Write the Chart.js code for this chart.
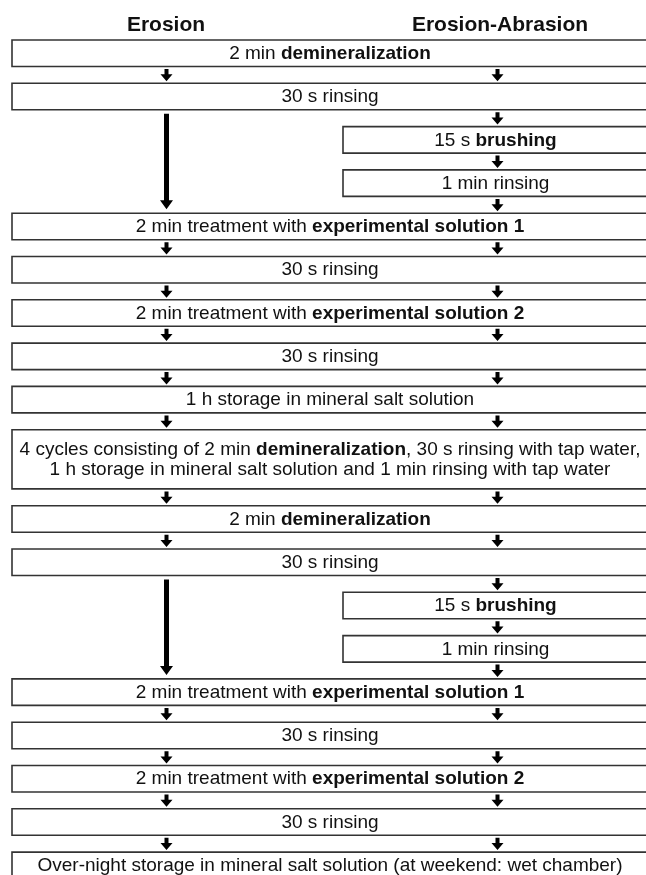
<!DOCTYPE html>
<html>
<head>
<meta charset="utf-8">
<script src="https://cdn.jsdelivr.net/npm/chart.js@4.4.1/dist/chart.umd.min.js"></script>
<style>
  html, body { margin: 0; padding: 0; background: #fff; }
  #wrap { width: 646px; height: 875px; }
</style>
</head>
<body>
<div id="wrap"><canvas id="flow"></canvas></div>
<script>
// column headings
const headers = ["Erosion", "Erosion-Abrasion"];

// the steps, top to bottom (**...** = bold, \n = second line)
const steps = [
  "2 min **demineralization**",
  "30 s rinsing",
  "15 s **brushing**",
  "1 min rinsing",
  "2 min treatment with **experimental solution 1**",
  "30 s rinsing",
  "2 min treatment with **experimental solution 2**",
  "30 s rinsing",
  "1 h storage in mineral salt solution",
  "4 cycles consisting of 2 min **demineralization**, 30 s rinsing with tap water,\n1 h storage in mineral salt solution and 1 min rinsing with tap water",
  "2 min **demineralization**",
  "30 s rinsing",
  "15 s **brushing**",
  "1 min rinsing",
  "2 min treatment with **experimental solution 1**",
  "30 s rinsing",
  "2 min treatment with **experimental solution 2**",
  "30 s rinsing",
  "Over-night storage in mineral salt solution (at weekend: wet chamber)"
];

// which groups a step applies to
const lanes = [
  "both", "both", "abrasion", "abrasion", "both", "both", "both", "both", "both",
  "both", "both", "both", "abrasion", "abrasion", "both", "both", "both", "both", "both"
];

// layout
const TOP = 40, BOX_H = 26.5, LINE_H = 32.7, GAP = 16.8;
const LEFT = [12, 343], RIGHT = 648;
const LANE_X = [166.5, 497.5];
const HEAD_X = [166, 500];
const FONT = '"Liberation Sans", Arial, sans-serif';

// box extents follow from the order of the steps
const boxes = [];
let yPos = TOP;
steps.forEach((s, i) => {
  const lines = s.split("\n").length;
  const h = BOX_H + (lines - 1) * LINE_H;
  boxes.push({ top: yPos, bottom: yPos + h, left: lanes[i] === "both" ? LEFT[0] : LEFT[1] });
  yPos += h + GAP;
});

const datasets = [];

boxes.forEach(b => {
  datasets.push({
    data: [
      { x: b.left, y: b.top }, { x: RIGHT, y: b.top },
      { x: RIGHT, y: b.bottom }, { x: b.left, y: b.bottom }, { x: b.left, y: b.top }
    ],
    borderColor: "#333",
    borderWidth: 1.6,
    borderJoinStyle: "miter",
    borderCapStyle: "square",
    fill: false
  });
});

function arrow(cx, y0, y1, sw, hw, hh) {
  const yh = y1 - hh;
  return {
    data: [
      { x: cx - sw / 2, y: y0 }, { x: cx + sw / 2, y: y0 },
      { x: cx + sw / 2, y: yh }, { x: cx + hw / 2, y: yh },
      { x: cx, y: y1 },
      { x: cx - hw / 2, y: yh }, { x: cx - sw / 2, y: yh },
      { x: cx - sw / 2, y: y0 }
    ],
    borderColor: "rgba(0,0,0,0)",
    borderWidth: 0.5,
    backgroundColor: "#000",
    fill: "shape"
  };
}

for (let i = 0; i < boxes.length - 1; i++) {
  const a = boxes[i], b = boxes[i + 1];
  datasets.push(arrow(LANE_X[1], a.bottom + 2.5, b.top - 2, 4, 12, 7));
  if (lanes[i] === "both" && lanes[i + 1] === "both") {
    datasets.push(arrow(LANE_X[0], a.bottom + 2.5, b.top - 2, 4, 12, 7));
  }
  if (lanes[i] === "both" && lanes[i + 1] === "abrasion") {
    let j = i + 1;
    while (lanes[j] !== "both") j++;
    datasets.push(arrow(LANE_X[0], a.bottom + 4, boxes[j].top - 4, 5, 13, 9));
  }
}

// text in boxes and headings
const textPlugin = {
  id: "flowText",
  afterDatasetsDraw(chart) {
    const ctx = chart.ctx;
    const xs = chart.scales.x, ys = chart.scales.y;
    ctx.save();
    ctx.fillStyle = "#111";
    ctx.textBaseline = "middle";

    ctx.font = "bold 21px " + FONT;
    ctx.textAlign = "center";
    headers.forEach((h, i) => {
      ctx.fillText(h, xs.getPixelForValue(HEAD_X[i]), ys.getPixelForValue(25));
    });

    ctx.textAlign = "left";
    steps.forEach((s, i) => {
      const b = boxes[i];
      const lines = s.split("\n");
      const cx = xs.getPixelForValue((b.left + RIGHT) / 2);
      const cy = (b.top + b.bottom) / 2 + 0.5;
      lines.forEach((line, k) => {
        const ly = ys.getPixelForValue(cy + (k - (lines.length - 1) / 2) * 19.5);
        const parts = line.split("**");
        let total = 0;
        parts.forEach((p, n) => {
          ctx.font = (n % 2 ? "bold " : "") + "19px " + FONT;
          total += ctx.measureText(p).width;
        });
        let x = cx - total / 2;
        parts.forEach((p, n) => {
          ctx.font = (n % 2 ? "bold " : "") + "19px " + FONT;
          ctx.fillText(p, x, ly);
          x += ctx.measureText(p).width;
        });
      });
    });
    ctx.restore();
  }
};

new Chart(document.getElementById("flow"), {
  type: "line",
  data: { datasets },
  options: {
    responsive: true,
    maintainAspectRatio: false,
    animation: false,
    layout: { padding: 0 },
    elements: { point: { radius: 0, hoverRadius: 0 }, line: { tension: 0 } },
    scales: {
      x: { type: "linear", min: 0, max: 646, display: false },
      y: { type: "linear", min: 0, max: 875, reverse: true, display: false }
    },
    plugins: { legend: { display: false }, tooltip: { enabled: false } },
    events: []
  },
  plugins: [textPlugin]
});
</script>
</body>
</html>
